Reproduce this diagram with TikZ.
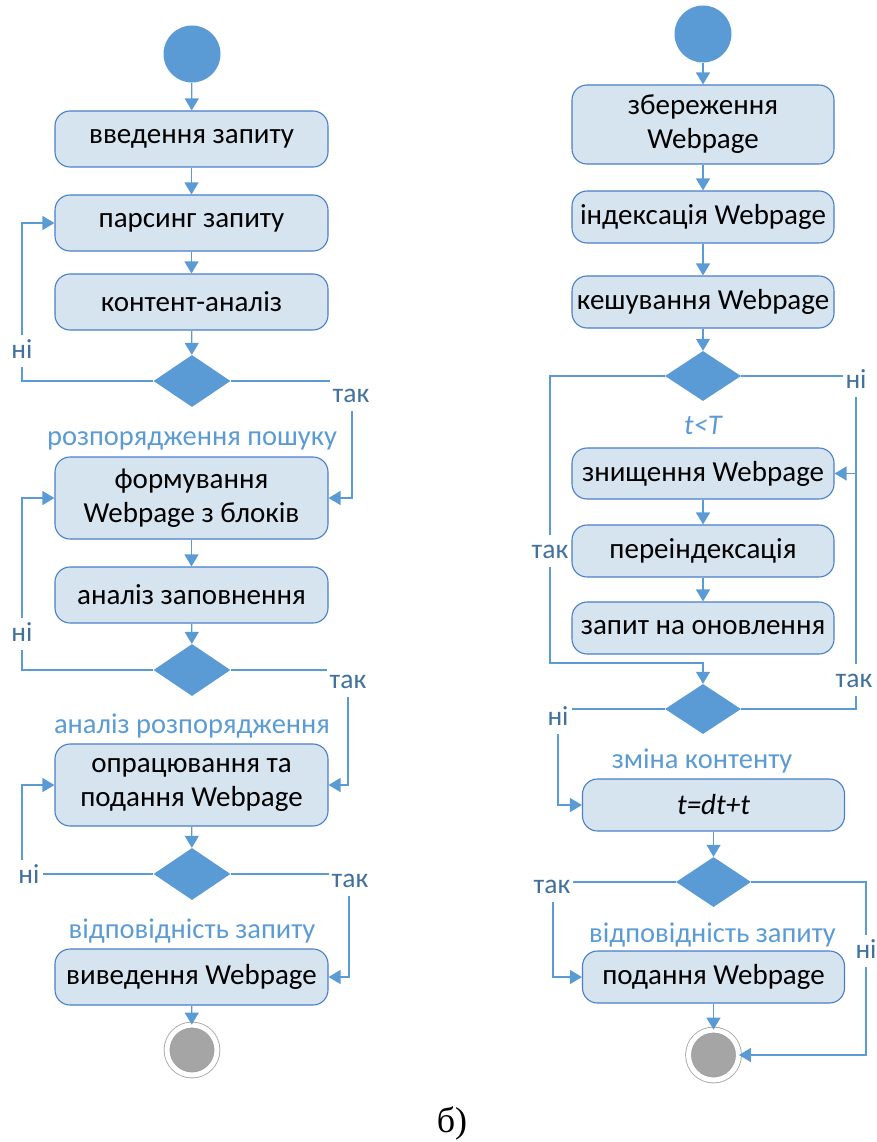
\documentclass[tikz,border=0pt]{standalone}
\usepackage{fontspec}
\setmainfont{Carlito}
\newfontfamily\capfont{Liberation Serif}
\usetikzlibrary{shapes.geometric,arrows.meta}
\definecolor{boxfill}{HTML}{D6E4EF}
\definecolor{boxedge}{HTML}{4A7EC8}
\definecolor{flow}{HTML}{5B9BD5}
\definecolor{guard}{HTML}{41719C}
\definecolor{endfill}{HTML}{A5A5A5}
\definecolor{endring}{HTML}{A0A0A0}

\begin{document}
\begin{tikzpicture}[x=1pt,y=-1pt,
  act/.style={draw=boxedge, fill=boxfill, line width=1.1pt, rounded corners=15pt,
    align=center, inner sep=0pt, font=\fontsize{29}{34}\selectfont},
  lcol/.style={act, minimum width=273pt},
  rcol/.style={act, minimum width=262pt},
  dec/.style={diamond, fill=flow, inner sep=0pt, minimum width=77pt, minimum height=52pt},
  startdot/.style={circle, fill=flow, inner sep=0pt, minimum size=57pt},
  enddot/.style={circle, fill=endfill, draw=endring, line width=0.8pt,
    double=white, double distance=5pt, inner sep=0pt, minimum size=50pt},
  flowline/.style={draw=flow, line width=1.3pt},
  conn/.style={flowline, -{Triangle[length=12pt,width=14pt]}},
  guardlbl/.style={fill=white, text=guard, inner sep=3pt, anchor=base,
    text height=20pt, text depth=6pt, font=\fontsize{27.5}{32}\selectfont},
  notelbl/.style={text=flow, inner sep=0pt, anchor=base, font=\fontsize{28.5}{33}\selectfont}
]
\useasboundingbox (0,0) rectangle (877,1142);

% ---------- left flow ----------
\node[startdot] (s1) at (192,54) {};
\node[lcol, minimum height=56pt] (b1) at (191.5,139) {введення запиту};
\node[lcol, minimum height=56pt] (b2) at (191.5,223) {парсинг запиту};
\node[lcol, minimum height=56pt] (b3) at (191.5,302) {контент-аналіз};
\node[dec] (d1) at (192,381) {};
\node[lcol, minimum height=82pt] (b4) at (191.5,498) {формування\\Webpage з блоків};
\node[lcol, minimum height=56pt] (b5) at (191.5,595) {аналіз заповнення};
\node[dec] (d2) at (192,670) {};
\node[lcol, minimum height=82pt] (b6) at (191.5,785) {опрацювання та\\подання Webpage};
\node[dec] (d3) at (192,874) {};
\node[lcol, minimum height=56pt] (b7) at (191.5,977) {виведення Webpage};
\node[enddot] (e1) at (192,1050) {};

\coordinate (lx) at (22,0);
\coordinate (rx1) at (352,0);
\coordinate (rx2) at (348,0);
\coordinate (rx3) at (349,0);

\draw[conn] (s1) -- (b1);
\draw[conn] (b1) -- (b2);
\draw[conn] (b2) -- (b3);
\draw[conn] (b3) -- (d1);
\draw[conn] (d1.west) -| (lx |- b2.west) -- (b2.west);
\draw[conn] (d1.east) -| (rx1 |- b4.east) -- (b4.east);
\draw[conn] (b4) -- (b5);
\draw[conn] (b5) -- (d2);
\draw[conn] (d2.west) -| (lx |- b4.west) -- (b4.west);
\draw[conn] (d2.east) -| (rx2 |- b6.east) -- (b6.east);
\draw[conn] (b6) -- (d3);
\draw[conn] (d3.west) -| (lx |- b6.west) -- (b6.west);
\draw[conn] (d3.east) -| (rx3 |- b7.east) -- (b7.east);
\draw[conn] (b7) -- (e1);

\node[guardlbl] (g1) at (22,358) {ні};
\node[guardlbl] (g2) at (351,402) {так};
\node[guardlbl] (g3) at (22,641) {ні};
\node[guardlbl] (g4) at (348,688) {так};
\node[guardlbl] (g5) at (29,883) {ні};
\node[guardlbl] (g6) at (350,887) {так};

\node[notelbl] (n1) at (192,445) {розпорядження пошуку};
\node[notelbl] (n2) at (192,733) {аналіз розпорядження};
\node[notelbl] (n3) at (192,938) {відповідність запиту};

% ---------- right flow ----------
\node[startdot] (s2) at (703,34) {};
\node[rcol, minimum height=79pt] (r1) at (703,124.5) {збереження\\Webpage};
\node[rcol, minimum height=52pt] (r2) at (703,217) {індексація Webpage};
\node[rcol, minimum height=52pt] (r3) at (703,302) {кешування Webpage};
\node[dec, minimum width=76pt, minimum height=50pt] (q1) at (703,376) {};
\node[rcol, minimum height=51pt] (r4) at (703,473.5) {знищення Webpage};
\node[rcol, minimum height=52pt] (r5) at (703,551) {переіндексація};
\node[rcol, minimum height=52pt] (r6) at (703,628) {запит на оновлення};
\node[dec, minimum width=76pt, minimum height=50pt] (q2) at (703,709) {};
\node[rcol, minimum height=52pt] (r7) at (713.5,805) {\itshape t=dt+t};
\node[dec, minimum width=75pt, minimum height=50pt] (q3) at (713.5,882) {};
\node[rcol, minimum height=52pt] (r8) at (713.5,977) {подання Webpage};
\node[enddot] (e2) at (713.5,1055) {};

\coordinate (jn) at (703,663);
\coordinate (cl1) at (550,0);
\coordinate (cr1) at (856,0);
\coordinate (cl2) at (558,0);
\coordinate (cl3) at (553,0);
\coordinate (cr3) at (866,0);

\draw[conn] (s2) -- (r1);
\draw[conn] (r1) -- (r2);
\draw[conn] (r2) -- (r3);
\draw[conn] (r3) -- (q1);
\draw[conn] (q1.west) -| (cl1 |- jn) -- (jn) -- (q2.north);
\draw[conn] (q1.east) -| (cr1 |- r4.east) -- (r4.east);
\draw[flowline] (q2.east) -| (cr1 |- r4.east);
\draw[conn] (r4) -- (r5);
\draw[conn] (r5) -- (r6);
\draw[conn] (q2.west) -| (cl2 |- r7.west) -- (r7.west);
\draw[conn] (r7.south) -- (q3.north);
\draw[conn] (q3.west) -| (cl3 |- r8.west) -- (r8.west);
\draw[conn] (q3.east) -| (cr3 |- e2.east) -- (e2.east);
\draw[conn] (r8) -- (e2);

\node[guardlbl] (h1) at (856,388) {ні};
\node[guardlbl] (h2) at (550,558) {так};
\node[guardlbl] (h3) at (854,687) {так};
\node[guardlbl] (h4) at (558,725) {ні};
\node[guardlbl] (h5) at (552,893) {так};
\node[guardlbl] (h6) at (866,958) {ні};

\node[notelbl] (m1) at (703,434) {\itshape t<T};
\node[notelbl] (m2) at (702,768) {зміна контенту};
\node[notelbl] (m3) at (712.5,942) {відповідність запиту};

% caption
\node[anchor=base, inner sep=0pt, font=\capfont\fontsize{36}{40}\selectfont] (cap) at (452,1132) {б)};
\end{tikzpicture}
\end{document}
